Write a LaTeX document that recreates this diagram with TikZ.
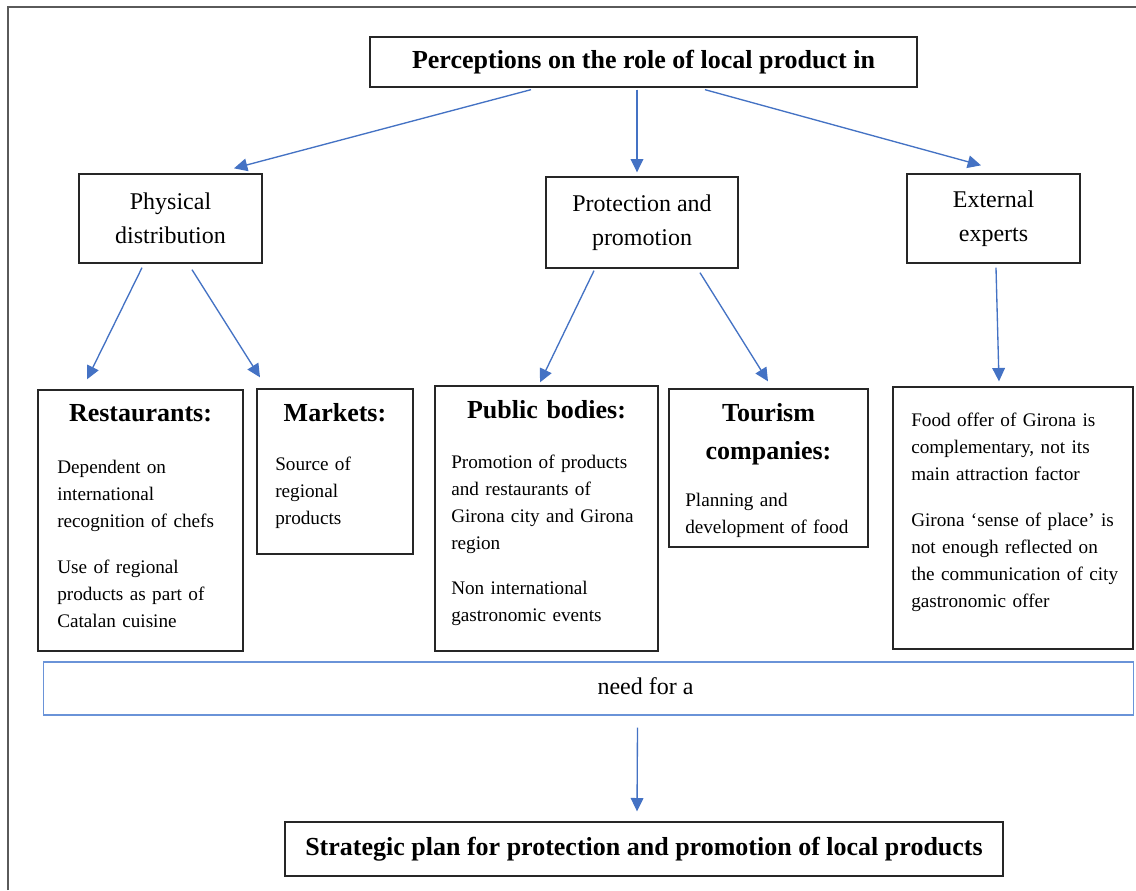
\documentclass[tikz,border=0pt]{standalone}
\usepackage{fontspec}
\setmainfont{Liberation Serif}
\usetikzlibrary{arrows.meta}
\definecolor{arrowblue}{HTML}{4472C4}
\definecolor{needblue}{HTML}{6A93D8}
\definecolor{boxline}{HTML}{262626}
\definecolor{framegray}{HTML}{5A5A5A}
\begin{document}
\begin{tikzpicture}[x=0.75pt,y=-0.75pt,
  sz/.style 2 args={minimum width=#1*0.75pt, minimum height=#2*0.75pt},
  box/.style={draw=boxline, line width=1pt, rectangle, inner sep=0pt},
  needbox/.style={draw=needblue, line width=1pt, rectangle, inner sep=0pt},
  titlefont/.style={font=\fontsize{19.5pt}{23pt}\selectfont\bfseries},
  midfont/.style={font=\fontsize{18pt}{25.5pt}\selectfont},
  headtext/.style={font=\fontsize{19.5pt}{28.5pt}\selectfont\bfseries, anchor=base, align=center, text width=160pt, inner sep=0pt},
  bodytext/.style={font=\fontsize{14.4pt}{20.25pt}\selectfont, anchor=base west, align=left, text width=170pt, inner sep=0pt},
  arr/.style={draw=arrowblue, line width=1pt, -{Triangle[length=10pt,width=9.5pt]}}
]
\useasboundingbox (0,0) rectangle (1136,890);
\fill[white] (0,0) rectangle (1136,890);
% outer frame (clipped at right and bottom)
\draw[framegray, line width=1.5pt] (8,890) -- (8,7) -- (1136,7);

% top
\node[box, sz={547}{50}, titlefont] (title) at (643.5,62) {Perceptions on the role of local product in};

% second level
\node[box, sz={183}{89}, midfont, align=center] (pd) at (170.5,218.5) {Physical\\distribution};
\node[box, sz={192}{91}, midfont, align=center] (pp) at (642,222.5) {Protection and\\promotion};
\node[box, sz={173}{89}, midfont, align=center] (ee) at (993.5,218.5) {External\\experts};

% third level boxes
\node[box, sz={205}{261}] (rest) at (140.5,520.5) {};
\node[box, sz={156}{165}] (mkt) at (335,471.5) {};
\node[box, sz={223}{265}] (pub) at (546.5,518.5) {};
\node[box, sz={199}{158}] (tour) at (768.5,468) {};
\node[box, sz={240}{262}] (ext) at (1013,518) {};

% texts inside third level
\node[headtext] (resth) at (140.5,421) {Restaurants:};
\node[bodytext] (restb) at (57,473) {Dependent on\\international\\recognition of chefs\\[14.25pt]Use of regional\\products as part of\\Catalan cuisine};
\node[headtext] (mkth) at (335,421) {Markets:};
\node[bodytext] (mktb) at (275,470) {Source of\\regional\\products};
\node[headtext] (pubh) at (546.5,418) {Public bodies:};
\node[bodytext] (pubb) at (451,468) {Promotion of products\\and restaurants of\\Girona city and Girona\\region\\[13.5pt]Non international\\gastronomic events};
\node[headtext] (tourh) at (768.5,421) {Tourism\\companies:};
\node[bodytext] (tourb) at (685,506) {Planning and\\development of food};
\node[bodytext] (extb) at (911,426) {Food offer of Girona is\\complementary, not its\\main attraction factor\\[14.25pt]Girona `sense of place' is\\not enough reflected on\\the communication of city\\gastronomic offer};

% need box
\node[needbox, sz={1090}{53}] (need) at (588.5,688.5) {};
\node[midfont, anchor=base, inner sep=0pt] (needt) at (645.5,694) {need for a};

% strategic plan
\node[box, sz={718}{54}, titlefont] (strat) at (644,849) {Strategic plan for protection and promotion of local products};

% connectors
\draw[arr] ([shift={(-112.5,2)}]title.south) -- ([shift={(63.5,-5)}]pd.north);
\draw[arr] ([shift={(-6.5,2)}]title.south) -- ([shift={(-5,-4)}]pp.north);
\draw[arr] ([shift={(61.5,2)}]title.south) -- ([shift={(-12.5,-8)}]ee.north);
\draw[arr] ([shift={(-28.5,4)}]pd.south) -- ([shift={(-53.5,-10)}]rest.north);
\draw[arr] ([shift={(21.5,6)}]pd.south) -- ([shift={(-75,-11)}]mkt.north);
\draw[arr] ([shift={(-48,2)}]pp.south) -- ([shift={(-6.5,-3)}]pub.north);
\draw[arr] ([shift={(58,4)}]pp.south) -- ([shift={(-0.5,-7)}]tour.north);
\draw[arr] ([shift={(2.5,4)}]ee.south) -- ([shift={(-14,-5)}]ext.north);
\draw[arr] ([shift={(49,12)}]need.south) -- ([shift={(-7,-10)}]strat.north);
\end{tikzpicture}
\end{document}
